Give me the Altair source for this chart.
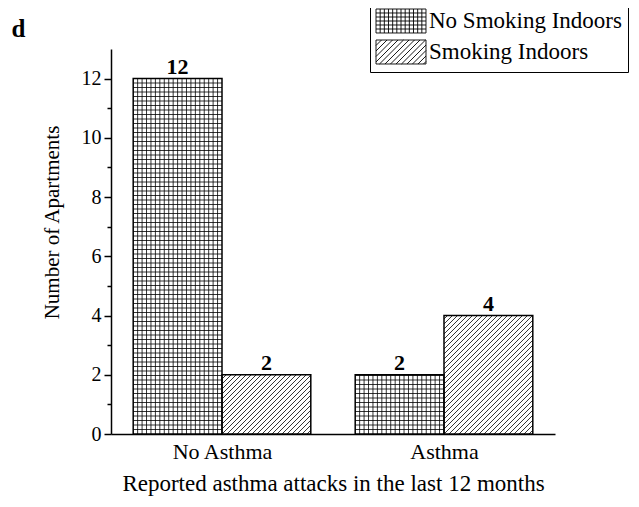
import altair as alt
import numpy as np
import pandas as pd

# ---------------- data ----------------
categories = ["No Asthma", "Asthma"]
series = ["No Smoking Indoors", "Smoking Indoors"]
no_smoking_indoors = [12, 2]
smoking_indoors = [2, 4]
y_major = [0, 2, 4, 6, 8, 10, 12]
y_minor = [1, 3, 5, 7, 9, 11]
x_title = "Reported asthma attacks in the last 12 months"
y_title = "Number of Apartments"
panel = "d"

# ---------------- layout / style constants ----------------
W, H = 444, 385
YMAX = 13
FONT = "Liberation Serif"
BAR_W = 0.2
GROUP_FIRST = 0.25
GROUP_STEP = 0.5
GRID_PX = 4.5
DIAG_PX = 5.0

rows = []
for ci, cat in enumerate(categories):
    center = GROUP_FIRST + ci * GROUP_STEP
    for si, (s, vals) in enumerate(zip(series, [no_smoking_indoors, smoking_indoors])):
        x0 = center + (si - 1) * BAR_W
        rows.append(dict(category=cat, series=s, value=vals[ci],
                         x0=x0, x1=x0 + BAR_W, xc=x0 + BAR_W / 2, zero=0))
bars = pd.DataFrame(rows)

# hatch lines derived from the bars
px_x = W / 1.0
px_y = H / YMAX
lines = []
for r in bars.itertuples():
    wpx = (r.x1 - r.x0) * px_x
    hpx = r.value * px_y
    if r.series == series[0]:
        n = int(round(wpx / GRID_PX))
        for k in range(1, n):
            x = r.x0 + k * (r.x1 - r.x0) / n
            lines.append(dict(xa=x, xb=x, ya=0.0, yb=float(r.value)))
        k = 1
        while k * GRID_PX < hpx - 0.5:
            y = k * GRID_PX / px_y
            lines.append(dict(xa=r.x0, xb=r.x1, ya=y, yb=y))
            k += 1
    else:
        kmin = int(np.ceil(-hpx / DIAG_PX))
        kmax = int(np.floor(wpx / DIAG_PX))
        for k in range(kmin, kmax + 1):
            c = k * DIAG_PX
            xs = max(0.0, c)
            xe = min(wpx, hpx + c)
            if xe - xs < 0.5:
                continue
            ys, ye = xs - c, xe - c
            lines.append(dict(xa=r.x0 + xs / px_x, xb=r.x0 + xe / px_x,
                              ya=ys / px_y, yb=ye / px_y))
hatch = pd.DataFrame(lines)

# legend swatch paths (custom symbol, scaled by sqrt(size)/2)
SYM_S = 33.0            # sqrt(symbolSize)
SW_W, SW_H = 50.0, 24.0  # swatch size in px
HX = (SW_W / 2) / (SYM_S / 2)
HY = (SW_H / 2) / (SYM_S / 2)

def grid_path():
    p = f"M{-HX:.3f},{-HY:.3f}H{HX:.3f}V{HY:.3f}H{-HX:.3f}Z"
    n = 12
    for k in range(1, n):
        x = -HX + 2 * HX * k / n
        p += f"M{x:.3f},{-HY:.3f}V{HY:.3f}"
    m = 6
    for k in range(1, m):
        y = -HY + 2 * HY * k / m
        p += f"M{-HX:.3f},{y:.3f}H{HX:.3f}"
    return p

def hatch_path():
    p = f"M{-HX:.3f},{-HY:.3f}H{HX:.3f}V{HY:.3f}H{-HX:.3f}Z"
    step = 5.5 / (SYM_S / 2)
    c = -HX - HY + step
    while c < HX + HY:
        xs = max(-HX, c - HY)
        xe = min(HX, c + HY)
        if xe - xs > 0.03:
            p += f"M{xs:.3f},{c - xs:.3f}L{xe:.3f},{c - xe:.3f}"
        c += step
    return p

xscale = alt.Scale(domain=[0, 1], nice=False, zero=False)
yscale = alt.Scale(domain=[0, YMAX], nice=False)

label_expr = " : ".join(
    [f"datum.value < {GROUP_FIRST + (i + 0.5) * GROUP_STEP} ? '{c}'" for i, c in enumerate(categories[:-1])]
    + [f"'{categories[-1]}'"]
)

fill_layer = alt.Chart(bars).mark_rect(fill="white", stroke=None).encode(
    x=alt.X("x0:Q", scale=xscale,
            axis=alt.Axis(values=[GROUP_FIRST + i * GROUP_STEP for i in range(len(categories))],
                          labelExpr=label_expr, ticks=False, tickSize=0, grid=False,
                          labelFontSize=22, labelPadding=7, labelFont=FONT, labelColor="black",
                          domainColor="black", domainWidth=1.5, orient="bottom",
                          title=x_title, titleFont=FONT, titleFontSize=23, titleFontWeight="normal",
                          titleColor="black", titlePadding=10)),
    x2="x1:Q",
    y=alt.Y("zero:Q", scale=yscale,
            axis=alt.Axis(values=y_major, tickSize=7, tickWidth=1.5, tickColor="black",
                          domainColor="black", domainWidth=1.5, grid=False,
                          labelFont=FONT, labelFontSize=20, labelPadding=3, labelColor="black",
                          title=y_title, titleFont=FONT, titleFontSize=21, titleFontWeight="normal",
                          titleColor="black", titlePadding=19, titleY=173, orient="left")),
    y2="value:Q",
)

hatch_layer = alt.Chart(hatch).mark_rule(color="black", strokeWidth=0.8).encode(
    x=alt.X("xa:Q", scale=xscale, axis=None),
    x2="xb:Q",
    y=alt.Y("ya:Q", scale=yscale, axis=None),
    y2="yb:Q",
)

outline_layer = alt.Chart(bars).mark_rect(fillOpacity=0, stroke="black", strokeWidth=1.5).encode(
    x=alt.X("x0:Q", scale=xscale, axis=None),
    x2="x1:Q",
    y=alt.Y("zero:Q", scale=yscale, axis=None),
    y2="value:Q",
)

# minor ticks axis; its title carries the panel letter
text_layer = alt.Chart(bars).mark_text(
    font=FONT, fontSize=22, fontWeight="bold", color="black", dy=-5, baseline="alphabetic"
).encode(
    x=alt.X("xc:Q", scale=xscale, axis=None),
    y=alt.Y("value:Q", scale=yscale,
            axis=alt.Axis(values=y_minor, tickSize=4, tickWidth=1.5, tickColor="black",
                          labels=False, domain=False, grid=False, orient="left",
                          title=panel, titleAngle=0, titleX=-100, titleY=-13,
                          titleAlign="left", titleBaseline="alphabetic",
                          titleFont=FONT, titleFontSize=25, titleFontWeight="bold",
                          titleColor="black")),
    text="value:Q",
)

legend_layer = alt.Chart(bars).transform_filter("false").mark_point(
    fill="white", stroke="black", strokeWidth=0.9, filled=False
).encode(
    x=alt.X("xc:Q", scale=xscale, axis=None),
    y=alt.Y("value:Q", scale=yscale, axis=None),
    shape=alt.Shape("series:N",
                    scale=alt.Scale(domain=series, range=[grid_path(), hatch_path()]),
                    legend=alt.Legend(title=None, orient="none", legendX=259, legendY=-51,
                                      symbolSize=SYM_S ** 2, symbolStrokeWidth=0.9, symbolOpacity=1,
                                      symbolOffset=8, labelOffset=11,
                                      labelFont=FONT, labelFontSize=23, labelColor="black",
                                      labelLimit=400, padding=6, rowPadding=0,
                                      strokeColor="black", fillColor="white")),
)

chart = alt.layer(fill_layer, hatch_layer, outline_layer, text_layer, legend_layer).resolve_axis(
    x="independent", y="independent"
).properties(
    width=W, height=H,
    padding={"left": 103, "top": 41, "right": 76, "bottom": 65},
    autosize=alt.AutoSizeParams(type="none"),
).configure_view(stroke=None)

chart.save("out.html", embed_options={"renderer": "svg", "actions": False})
